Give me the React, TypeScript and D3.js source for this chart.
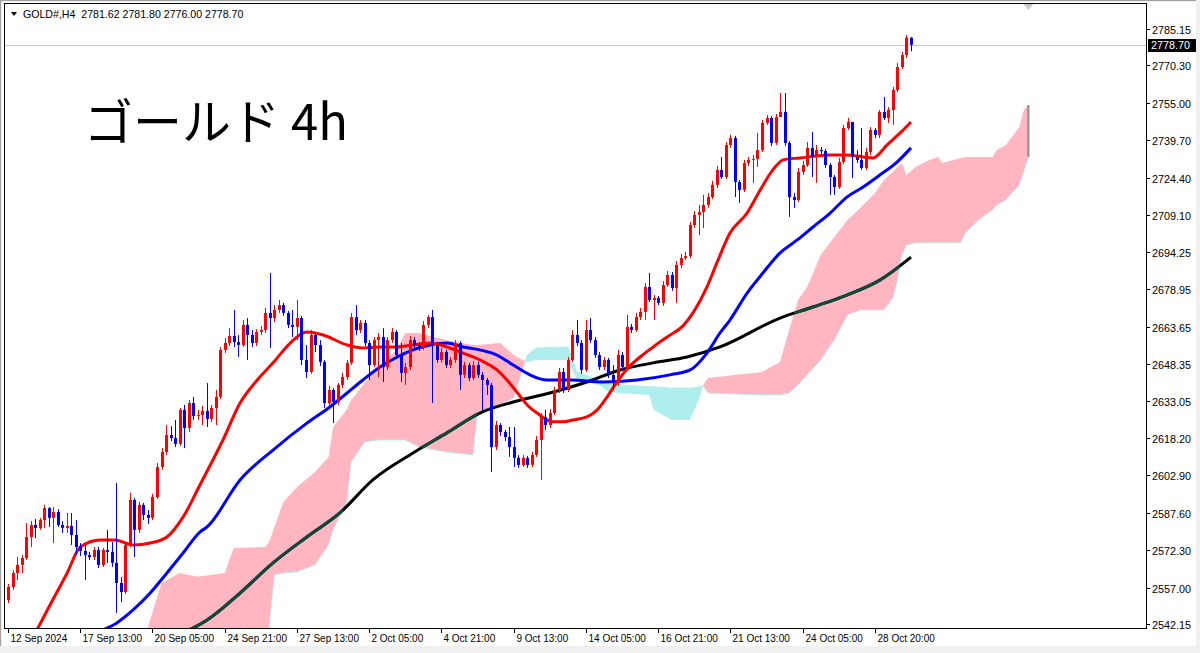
import React from "react";
import * as d3 from "d3";

// ---------- DATA ----------
const firstOpen = 2552.0;

const closes = [
  2557.3, 2563.0, 2566.3, 2569.1, 2577.7, 2582.6, 2581.4, 2584.6, 2589.5, 2585.5,
  2587.9, 2582.6, 2581.4, 2582.2, 2578.5, 2573.6, 2572.0, 2570.3, 2569.5, 2572.4,
  2566.3, 2572.4, 2571.6, 2567.1, 2558.9, 2555.2, 2574.4, 2592.8, 2580.6, 2590.8,
  2586.7, 2585.5, 2594.0, 2606.3, 2612.4, 2619.3, 2618.1, 2615.7, 2629.6, 2622.2,
  2632.4, 2627.1, 2627.5, 2629.2, 2625.9, 2630.4, 2634.9, 2654.1, 2656.9, 2659.8,
  2657.3, 2656.1, 2664.3, 2660.2, 2656.9, 2661.4, 2662.2, 2669.2, 2667.1, 2670.4,
  2672.4, 2669.2, 2664.3, 2663.5, 2667.1, 2650.0, 2645.1, 2660.2, 2656.1, 2649.2,
  2632.4, 2637.7, 2632.8, 2639.8, 2643.0, 2648.8, 2667.5, 2662.2, 2665.1, 2656.9,
  2647.9, 2658.1, 2659.4, 2647.1, 2658.1, 2661.4, 2652.0, 2644.7, 2647.1, 2658.1,
  2656.1, 2655.3, 2664.3, 2667.5, 2656.1, 2650.0, 2653.2, 2647.9, 2650.0, 2656.9,
  2643.9, 2647.9, 2642.6, 2647.9, 2643.9, 2641.8, 2639.8, 2614.4, 2623.4, 2620.6,
  2618.5, 2614.4, 2610.0, 2607.1, 2610.0, 2607.1, 2611.2, 2617.3, 2626.7, 2623.4,
  2628.3, 2637.7, 2645.1, 2637.7, 2650.0, 2660.2, 2656.9, 2645.9, 2662.2, 2658.1,
  2652.0, 2647.1, 2650.0, 2643.9, 2640.6, 2652.0, 2647.1, 2663.5, 2662.2, 2667.5,
  2669.6, 2679.8, 2674.5, 2675.3, 2673.3, 2680.6, 2684.7, 2679.4, 2688.8, 2691.6,
  2692.4, 2705.1, 2709.2, 2710.4, 2713.3, 2716.5, 2721.5, 2727.6, 2724.7, 2737.8,
  2740.6, 2722.7, 2719.4, 2730.4, 2731.7, 2732.1, 2735.7, 2746.8, 2748.8, 2738.6,
  2749.2, 2751.3, 2738.6, 2716.5, 2715.3, 2726.8, 2729.6, 2736.6, 2732.9, 2735.7,
  2735.3, 2729.6, 2724.7, 2720.6, 2730.8, 2744.7, 2747.2, 2732.9, 2731.7, 2728.4,
  2734.9, 2743.9, 2741.9, 2751.3, 2748.8, 2752.1, 2760.2, 2769.6, 2774.5, 2781.62,
  2778.70,
];

const highs = [
  2558.5, 2564.2, 2569.5, 2570.3, 2583.4, 2584.2, 2585.0, 2585.5, 2590.8, 2589.9,
  2589.9, 2589.1, 2584.2, 2587.5, 2587.5, 2584.6, 2575.2, 2574.4, 2571.6, 2573.6,
  2573.6, 2573.2, 2580.6, 2575.6, 2599.7, 2561.4, 2575.2, 2595.7, 2593.6, 2592.0,
  2591.6, 2588.7, 2595.3, 2607.9, 2614.0, 2623.4, 2623.0, 2625.5, 2630.4, 2631.6,
  2633.6, 2634.9, 2629.6, 2631.2, 2640.6, 2631.6, 2637.7, 2655.3, 2659.0, 2663.0,
  2670.4, 2660.2, 2666.3, 2667.1, 2662.2, 2662.6, 2663.9, 2671.2, 2685.5, 2672.4,
  2674.5, 2673.3, 2670.0, 2670.4, 2674.5, 2668.0, 2656.1, 2662.2, 2661.4, 2658.1,
  2650.0, 2639.4, 2638.5, 2640.6, 2644.7, 2650.0, 2669.2, 2672.4, 2666.3, 2666.3,
  2658.1, 2659.4, 2661.0, 2663.0, 2659.4, 2663.0, 2662.2, 2656.9, 2648.8, 2659.8,
  2659.4, 2657.3, 2665.9, 2668.4, 2670.4, 2656.9, 2654.9, 2654.1, 2651.2, 2658.1,
  2657.7, 2649.2, 2648.8, 2649.6, 2649.2, 2645.1, 2642.6, 2640.6, 2625.1, 2624.2,
  2621.4, 2622.6, 2622.6, 2611.2, 2611.2, 2610.8, 2612.4, 2618.9, 2628.3, 2629.6,
  2630.0, 2639.0, 2646.7, 2646.7, 2651.2, 2662.2, 2666.3, 2658.1, 2666.3, 2667.1,
  2659.4, 2653.2, 2651.2, 2650.8, 2647.9, 2654.1, 2653.2, 2668.4, 2664.7, 2669.2,
  2671.2, 2681.4, 2685.5, 2676.5, 2676.1, 2682.2, 2686.3, 2685.9, 2690.4, 2693.3,
  2694.1, 2706.3, 2710.8, 2713.3, 2717.4, 2718.2, 2723.1, 2729.2, 2732.9, 2739.0,
  2741.9, 2741.5, 2723.5, 2731.7, 2732.9, 2733.7, 2742.7, 2748.0, 2750.0, 2749.6,
  2750.4, 2759.0, 2759.0, 2739.4, 2718.2, 2728.4, 2731.3, 2739.0, 2743.1, 2737.8,
  2737.0, 2736.2, 2730.4, 2725.5, 2732.5, 2746.0, 2748.8, 2743.9, 2735.7, 2744.7,
  2736.6, 2745.1, 2744.7, 2752.1, 2757.4, 2753.3, 2761.5, 2771.3, 2775.8, 2782.7,
  2781.80,
];

const lows = [
  2550.7, 2556.0, 2560.1, 2563.0, 2568.3, 2573.6, 2577.3, 2580.6, 2581.4, 2581.8,
  2575.2, 2581.8, 2579.3, 2579.3, 2574.4, 2570.3, 2569.9, 2560.1, 2568.3, 2568.3,
  2565.0, 2565.4, 2567.1, 2565.4, 2546.7, 2551.1, 2554.4, 2573.6, 2569.5, 2579.3,
  2584.6, 2583.0, 2584.6, 2593.2, 2605.1, 2611.2, 2616.9, 2614.4, 2614.9, 2614.0,
  2620.6, 2625.5, 2625.5, 2623.4, 2622.6, 2624.7, 2623.4, 2634.0, 2652.8, 2655.7,
  2655.3, 2651.2, 2655.3, 2650.0, 2655.3, 2655.7, 2660.2, 2661.0, 2654.9, 2665.5,
  2669.2, 2668.0, 2663.0, 2659.4, 2658.1, 2647.9, 2642.6, 2644.3, 2653.2, 2647.5,
  2630.4, 2631.2, 2624.2, 2631.6, 2638.5, 2641.8, 2647.9, 2660.2, 2661.0, 2655.7,
  2641.8, 2647.1, 2643.0, 2641.0, 2645.9, 2656.9, 2650.8, 2641.0, 2639.8, 2645.9,
  2654.5, 2653.7, 2654.1, 2663.0, 2632.4, 2648.8, 2648.8, 2646.7, 2646.7, 2648.8,
  2637.7, 2642.6, 2641.4, 2641.8, 2642.6, 2629.6, 2635.7, 2604.2, 2613.2, 2618.9,
  2616.9, 2610.4, 2606.3, 2605.9, 2606.3, 2605.9, 2606.3, 2610.4, 2601.0, 2621.4,
  2622.2, 2627.5, 2636.5, 2636.5, 2636.9, 2649.2, 2655.7, 2644.3, 2645.1, 2656.9,
  2650.8, 2645.9, 2645.9, 2642.6, 2637.7, 2639.4, 2645.9, 2646.3, 2661.0, 2661.4,
  2666.3, 2666.3, 2673.7, 2666.3, 2672.4, 2672.0, 2679.8, 2678.2, 2673.3, 2687.5,
  2690.8, 2691.6, 2703.9, 2701.0, 2703.9, 2712.1, 2715.7, 2720.2, 2723.9, 2723.9,
  2736.6, 2716.5, 2714.1, 2718.6, 2729.2, 2722.3, 2728.8, 2734.9, 2746.0, 2737.4,
  2737.8, 2750.0, 2737.4, 2708.4, 2712.1, 2714.5, 2725.5, 2728.8, 2724.7, 2722.3,
  2733.7, 2728.4, 2717.4, 2717.4, 2719.8, 2730.0, 2743.9, 2724.3, 2730.4, 2727.6,
  2727.6, 2733.7, 2740.6, 2740.6, 2748.0, 2746.8, 2746.0, 2759.4, 2768.8, 2773.3,
  2776.00,
];

// moving averages: [bar index, price]
const redMA = [
  [6.4, 2539.7], [9.3, 2549.9], [13.1, 2563.0], [16.0, 2573.6], [20.4, 2576.5], [23.7, 2576.5],
  [27.7, 2574.4], [31.5, 2575.2], [35.2, 2577.7], [38.8, 2585.9], [42.5, 2598.9], [47.6, 2617.3],
  [51.4, 2632.4], [55.2, 2641.8], [58.7, 2648.8], [62.5, 2656.9], [66.2, 2661.4], [69.8, 2660.2],
  [75.1, 2656.1], [78.6, 2654.9], [82.4, 2655.3], [86.2, 2655.3], [89.7, 2656.1], [93.5, 2656.9],
  [97.2, 2655.3], [100.8, 2652.8], [104.5, 2650.0], [108.3, 2645.9], [110.5, 2641.8], [112.7, 2636.9],
  [115.0, 2631.6], [117.2, 2628.3], [120.7, 2624.7], [122.9, 2624.7], [125.1, 2625.5], [128.2, 2626.7],
  [130.5, 2629.6], [132.7, 2634.9], [134.9, 2641.0], [137.1, 2646.3], [140.0, 2651.2], [142.9, 2655.3],
  [146.0, 2659.4], [149.5, 2663.9], [151.7, 2669.2], [154.8, 2679.8], [157.0, 2689.6], [159.9, 2701.8],
  [163.7, 2710.0], [166.6, 2719.4], [169.4, 2727.6], [171.7, 2731.7], [175.4, 2732.5], [182.1, 2733.7],
  [185.8, 2733.7], [189.4, 2732.9], [191.6, 2732.5], [194.7, 2737.8], [197.6, 2742.7], [200, 2747.2],
];

const blueMA = [
  [21.0, 2539.7], [24.1, 2542.6], [27.7, 2547.9], [31.5, 2554.8], [35.2, 2563.0], [38.8, 2571.2],
  [42.5, 2579.7], [44.1, 2581.8], [51.4, 2601.0], [58.7, 2613.2], [66.2, 2624.2], [71.3, 2630.8],
  [75.1, 2636.5], [78.6, 2641.8], [82.4, 2647.1], [86.2, 2651.2], [89.7, 2654.1], [93.5, 2656.1],
  [97.2, 2656.9], [100.8, 2655.3], [104.5, 2654.1], [108.3, 2652.0], [111.9, 2647.9], [115.6, 2643.9],
  [119.4, 2641.8], [124.5, 2641.8], [131.8, 2641.0], [139.3, 2641.8], [146.6, 2643.9], [151.1, 2645.9],
  [154.8, 2652.8], [157.7, 2661.0], [159.9, 2666.3], [163.7, 2677.3], [167.2, 2685.5], [171.0, 2693.7],
  [174.8, 2699.0], [178.3, 2704.3], [182.1, 2710.0], [185.8, 2716.5], [189.4, 2720.6], [193.1, 2725.5],
  [196.9, 2730.8], [200, 2736.6],
];

const blackMA = [
  [39.2, 2538.9], [41.4, 2540.9], [44.1, 2543.8], [51.4, 2554.8], [58.7, 2567.1], [66.2, 2577.7],
  [73.5, 2587.5], [80.8, 2601.0], [89.7, 2612.0], [97.2, 2620.2], [104.5, 2628.3], [111.9, 2632.8],
  [120.0, 2636.5], [128.2, 2641.0], [135.6, 2645.9], [142.9, 2648.8], [150.4, 2651.2], [157.7, 2655.3],
  [171.0, 2667.1], [178.3, 2671.6], [185.8, 2676.5], [193.1, 2682.6], [200, 2692.0],
];

// Ichimoku cloud (already shifted forward 26 bars)
const cloudBars = [
  28, 31, 34, 38, 42, 48, 49, 50, 57, 58, 59, 61, 64, 68, 71, 72, 75, 76, 79, 82,
  86, 88, 91, 97, 103, 104, 109, 112, 114, 115, 117, 124, 126, 131, 133, 142, 143, 147, 151, 153,
  154, 155, 167, 171, 173, 175, 177, 180, 183, 186, 189, 192, 194, 196, 197, 198, 199, 201, 204, 206,
  207, 211, 212, 215, 218, 219, 221, 224, 225, 226,
];
const spanA = [
  2527.5, 2540.9, 2558.9, 2563.0, 2561.4, 2563.0, 2568.3, 2573.2, 2573.6, 2576.5,
  2581.8, 2592.0, 2598.1, 2604.2, 2610.4, 2622.6, 2629.6, 2633.6, 2640.6, 2647.1,
  2654.1, 2661.0, 2661.0, 2658.1, 2656.1, 2656.1, 2656.9, 2652.0, 2650.0, 2649.2,
  2650.0, 2650.0, 2641.8, 2639.8, 2636.9, 2635.7, 2629.6, 2625.5, 2625.5, 2633.6,
  2639.8, 2642.6, 2645.1, 2649.2, 2662.2, 2674.5, 2679.8, 2692.9, 2700.2, 2707.2,
  2712.5, 2718.2, 2723.5, 2726.8, 2728.8, 2730.4, 2725.5, 2728.8, 2731.7, 2732.9,
  2730.4, 2732.5, 2732.9, 2732.9, 2732.9, 2735.7, 2737.8, 2745.1, 2752.1, 2754.1,
];
const spanB = [
  2511.1, 2511.1, 2511.1, 2511.1, 2511.1, 2511.1, 2511.1, 2511.1, 2511.1, 2543.8,
  2562.2, 2563.0, 2563.4, 2566.3, 2574.4, 2580.6, 2591.6, 2608.3, 2616.5, 2617.3,
  2617.3, 2617.3, 2614.4, 2612.4, 2611.2, 2628.7, 2631.6, 2634.5, 2645.9, 2652.0,
  2654.9, 2655.3, 2645.1, 2641.8, 2640.2, 2639.0, 2639.0, 2638.5, 2638.5, 2639.0,
  2639.4, 2636.5, 2635.7, 2635.7, 2636.5, 2639.8, 2643.9, 2650.0, 2658.1, 2668.4,
  2670.4, 2670.4, 2670.4, 2675.3, 2682.6, 2692.9, 2696.9, 2697.8, 2697.8, 2697.8,
  2697.8, 2697.8, 2701.8, 2707.2, 2711.2, 2713.3, 2715.3, 2721.5, 2726.8, 2732.9,
];

const yTicks = [
  2785.15, 2770.30, 2755.00, 2739.70, 2724.40, 2709.10, 2694.25, 2678.95, 2663.65,
  2648.35, 2633.05, 2618.20, 2602.90, 2587.60, 2572.30, 2557.00, 2542.15,
];
const xTickBars = [0, 16, 32, 48, 64, 80, 96, 112, 128, 144, 160, 176, 192];
const xTickLabels = [
  "12 Sep 2024", "17 Sep 13:00", "20 Sep 05:00", "24 Sep 21:00", "27 Sep 13:00",
  "2 Oct 05:00", "4 Oct 21:00", "9 Oct 13:00", "14 Oct 05:00", "16 Oct 21:00",
  "21 Oct 13:00", "24 Oct 05:00", "28 Oct 20:00",
];
const headerText = "GOLD#,H4  2781.62 2781.80 2776.00 2778.70";
const lastPrice = 2778.70;
const title = "ゴールド 4h";

// ---------- COMPONENT ----------
export default function App() {
  const W = 1200, H = 653;
  const pl = 4, pt = 3, pr = 1146, pb = 628;
  const x = d3.scaleLinear().domain([0, 200]).range([8, 911]);
  const y = d3.scaleLinear().domain([2542.15, 2785.15]).range([624, 29]);
  const opens = closes.map((c, i) => (i === 0 ? firstOpen : closes[i - 1]));

  const maLine = d3
    .line<number[]>()
    .x((d) => x(d[0]))
    .y((d) => y(d[1]))
    .curve(d3.curveMonotoneX);

  const cloud = cloudBars.map((b, k) => ({ b, a: spanA[k], s: spanB[k] }));
  type C = { b: number; a: number; s: number };
  const aboveB = d3.area<C>().x((d) => x(d.b)).y0((d) => y(d.s)).y1(-50)(cloud) || "";
  const belowA = d3.area<C>().x((d) => x(d.b)).y0((d) => y(d.a)).y1(900)(cloud) || "";
  const aboveA = d3.area<C>().x((d) => x(d.b)).y0((d) => y(d.a)).y1(-50)(cloud) || "";
  const belowB = d3.area<C>().x((d) => x(d.b)).y0((d) => y(d.s)).y1(900)(cloud) || "";
  const lineB = d3.line<C>().x((d) => x(d.b)).y((d) => y(d.s))(cloud) || "";
  const lastC = cloud[cloud.length - 1];

  const lab = "'Liberation Sans', Arial, sans-serif";

  return (
    <svg
      width={W}
      height={H}
      style={{ position: "absolute", left: 0, top: 0, display: "block" }}
      xmlns="http://www.w3.org/2000/svg"
    >
      <defs>
        <clipPath id="plot">
          <rect x={pl + 1} y={pt + 1} width={pr - pl - 1} height={pb - pt - 1} />
        </clipPath>
        <clipPath id="belowA">
          <path d={belowA} />
        </clipPath>
        <clipPath id="aboveA">
          <path d={aboveA} />
        </clipPath>
        <mask id="pinkMask" maskUnits="userSpaceOnUse" x={0} y={0} width={W} height={H}>
          <path d={aboveB} fill="white" clipPath="url(#belowA)" />
        </mask>
      </defs>

      <rect x={0} y={0} width={W} height={H} fill="#f0f0f0" />
      <rect x={2} y={2} width={1194} height={644} fill="#ffffff" />
      <line x1={0.5} y1={0} x2={0.5} y2={646} stroke="#a0a0a0" />
      <line x1={0} y1={0.5} x2={1196} y2={0.5} stroke="#a0a0a0" />

      <g clipPath="url(#plot)">
        {/* cloud */}
        <path d={aboveB} fill="#ffb6c1" clipPath="url(#belowA)" />
        <path d={belowB} fill="#afeeee" clipPath="url(#aboveA)" />
        <path d={lineB} fill="none" stroke="#b8eeee" strokeWidth={1} />
        <line
          x1={x(lastC.b)}
          x2={x(lastC.b)}
          y1={y(lastC.a)}
          y2={y(lastC.s)}
          stroke="#8c8c8c"
          strokeWidth={2}
        />

        {/* bid line */}
        <line x1={pl} x2={pr} y1={Math.round(y(lastPrice)) + 0.5} y2={Math.round(y(lastPrice)) + 0.5} stroke="#c8c8c8" strokeWidth={1} />

        {/* moving averages */}
        <path d={maLine(blackMA as any) || ""} fill="none" stroke="#000000" strokeWidth={3} />
        <path d={maLine(blackMA as any) || ""} fill="none" stroke="#0f4b3c" strokeWidth={3} mask="url(#pinkMask)" />
        <path d={maLine(blueMA as any) || ""} fill="none" stroke="#0000ff" strokeWidth={3} />
        <path d={maLine(redMA as any) || ""} fill="none" stroke="#ff0000" strokeWidth={3} />

        {/* candles */}
        {closes.map((c, i) => {
          const o = opens[i];
          const up = c >= o;
          const col = up ? "#ff0000" : "#0000ff";
          const cx = Math.round(x(i)) + 0.5;
          const yt = y(Math.max(o, c));
          const yb = y(Math.min(o, c));
          return (
            <g key={i}>
              <line
                x1={cx}
                x2={cx}
                y1={y(Math.max(highs[i], o, c))}
                y2={y(Math.min(lows[i], o, c))}
                stroke={col}
                strokeWidth={1}
              />
              <rect x={cx - 1.5} y={yt} width={3} height={Math.max(1, yb - yt)} fill={col} />
            </g>
          );
        })}
      </g>

      {/* shift marker */}
      <path d={`M${x(226) - 5},${pt + 1} L${x(226) + 5},${pt + 1} L${x(226)},${pt + 7} Z`} fill="#c8c8c8" />

      {/* chart border */}
      <rect x={pl + 0.5} y={pt + 0.5} width={pr - pl} height={pb - pt} fill="none" stroke="#000" strokeWidth={1} />

      {/* header */}
      <path d="M11,12 L17,12 L14,16 Z" fill="#000" />
      <text x={23} y={18} fontFamily={lab} fontSize={10.6} fill="#000" xmlSpace="preserve" style={{ whiteSpace: "pre" }}>
        {headerText}
      </text>

      {/* title */}
      <text x={84} y={140} fontFamily="'Noto Sans CJK JP', sans-serif" fontSize={49} fill="#000">
        {title}
      </text>

      {/* y axis */}
      {yTicks.map((v) => {
        const yy = Math.round(y(v)) + 0.5;
        return (
          <g key={v}>
            <line x1={pr} x2={pr + 4} y1={yy} y2={yy} stroke="#000" />
            <text x={pr + 6} y={yy + 4} fontFamily={lab} fontSize={10.8} fill="#000">
              {v.toFixed(2)}
            </text>
          </g>
        );
      })}
      <rect x={pr + 2} y={Math.round(y(lastPrice)) - 6} width={48} height={13} fill="#000" />
      <text x={pr + 5} y={Math.round(y(lastPrice)) + 4} fontFamily={lab} fontSize={10.8} fill="#fff">
        {lastPrice.toFixed(2)}
      </text>

      {/* x axis */}
      {xTickBars.map((b, k) => {
        const xx = Math.round(x(b)) + 0.5;
        return (
          <g key={b}>
            <line x1={xx} x2={xx} y1={pb} y2={pb + 5} stroke="#000" />
            <text x={xx + 2} y={pb + 14} fontFamily={lab} fontSize={10} fill="#000">
              {xTickLabels[k]}
            </text>
          </g>
        );
      })}
    </svg>
  );
}
